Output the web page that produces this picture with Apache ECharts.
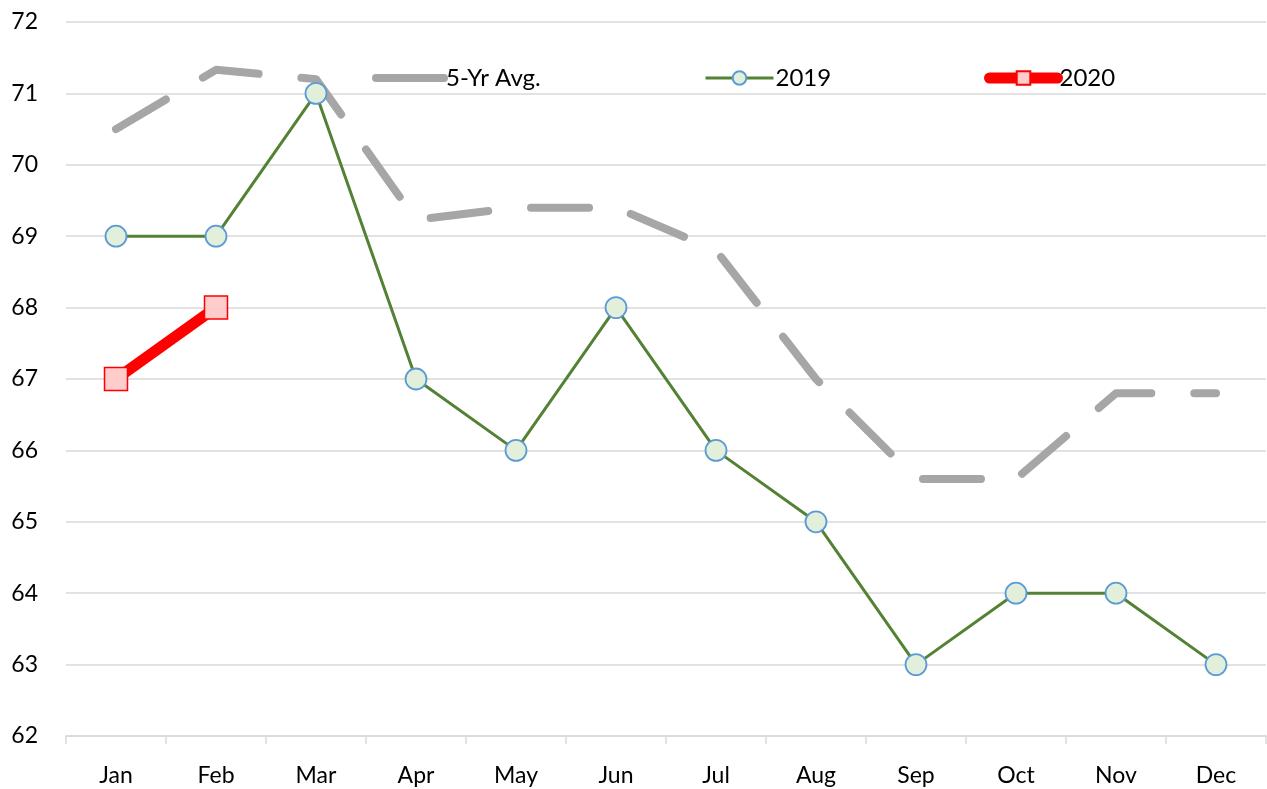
<!DOCTYPE html>
<html>
<head>
<meta charset="utf-8">
<script src="https://cdn.jsdelivr.net/npm/echarts@6/dist/echarts.min.js"></script>
<style>
  html, body { margin: 0; padding: 0; background: #fff; }
  #chart { width: 1267px; height: 789px; }
</style>
</head>
<body>
<div id="chart"></div>
<script>
const months = ['Jan', 'Feb', 'Mar', 'Apr', 'May', 'Jun', 'Jul', 'Aug', 'Sep', 'Oct', 'Nov', 'Dec']
const avg5yr = [70.5, 71.33, 71.2, 69.23, 69.4, 69.4, 68.8, 67.0, 65.6, 65.6, 66.8, 66.8]
const y2019 = [69, 69, 71, 67, 66, 68, 66, 65, 63, 64, 64, 63]
const y2020 = [67, 68, null, null, null, null, null, null, null, null, null, null]

const chart = echarts.init(document.getElementById('chart'))

const font = 'Lato, "Liberation Sans", sans-serif'

// one legend per entry so each can sit where the original has it
const legendBase = {
  top: 66,
  padding: 0,
  itemWidth: 68,
  itemHeight: 17,
  textStyle: { color: '#000', fontSize: 24, fontFamily: font, padding: [0, 0, 0, -3] }
}

const option = {
  animation: false,
  grid: {
    left: 66,
    right: 1,
    top: 22,
    bottom: 53
  },
  legend: [
    Object.assign({}, legendBase, {
      left: 372,
      data: [{
        name: '5-Yr Avg.',
        itemStyle: { opacity: 0 },
        lineStyle: { type: 'solid', width: 8, cap: 'round', color: '#a6a6a6' }
      }]
    }),
    Object.assign({}, legendBase, {
      left: 704,
      data: [{ name: '2019', lineStyle: { width: 3, color: '#548235' } }]
    }),
    Object.assign({}, legendBase, {
      left: 984,
      data: [{ name: '2020', lineStyle: { width: 11, cap: 'round', color: '#ff0000' } }]
    })
  ],
  xAxis: {
    type: 'category',
    data: months,
    boundaryGap: true,
    axisLine: { lineStyle: { color: '#d9d9d9', width: 1.5 } },
    axisTick: { show: true, length: 8, lineStyle: { color: '#d9d9d9', width: 1.5 } },
    axisLabel: { color: '#000', fontSize: 23, fontFamily: font, margin: 28 }
  },
  yAxis: {
    type: 'value',
    min: 62,
    max: 72,
    interval: 1,
    axisLine: { show: false },
    axisTick: { show: false },
    axisLabel: { color: '#000', fontSize: 23, fontFamily: font, margin: 28 },
    splitLine: { lineStyle: { color: '#d9d9d9', width: 1.5 } }
  },
  series: [
    {
      name: '5-Yr Avg.',
      type: 'line',
      data: avg5yr,
      symbol: 'none',
      itemStyle: { color: '#a6a6a6' },
      lineStyle: { color: '#a6a6a6', width: 8, type: [58, 43], cap: 'round', join: 'round' },
      z: 1
    },
    {
      name: '2019',
      type: 'line',
      data: y2019,
      symbol: 'circle',
      symbolSize: 21,
      itemStyle: { color: '#e2efda', borderColor: '#5b9bd5', borderWidth: 1.8 },
      lineStyle: { color: '#548235', width: 3 },
      z: 3
    },
    {
      name: '2020',
      type: 'line',
      data: y2020,
      symbol: 'rect',
      symbolSize: 23,
      itemStyle: { color: '#ffcccc', borderColor: '#ff0000', borderWidth: 1.5 },
      lineStyle: { color: '#ff0000', width: 11 },
      z: 2
    }
  ]
}

chart.setOption(option)
</script>
</body>
</html>
